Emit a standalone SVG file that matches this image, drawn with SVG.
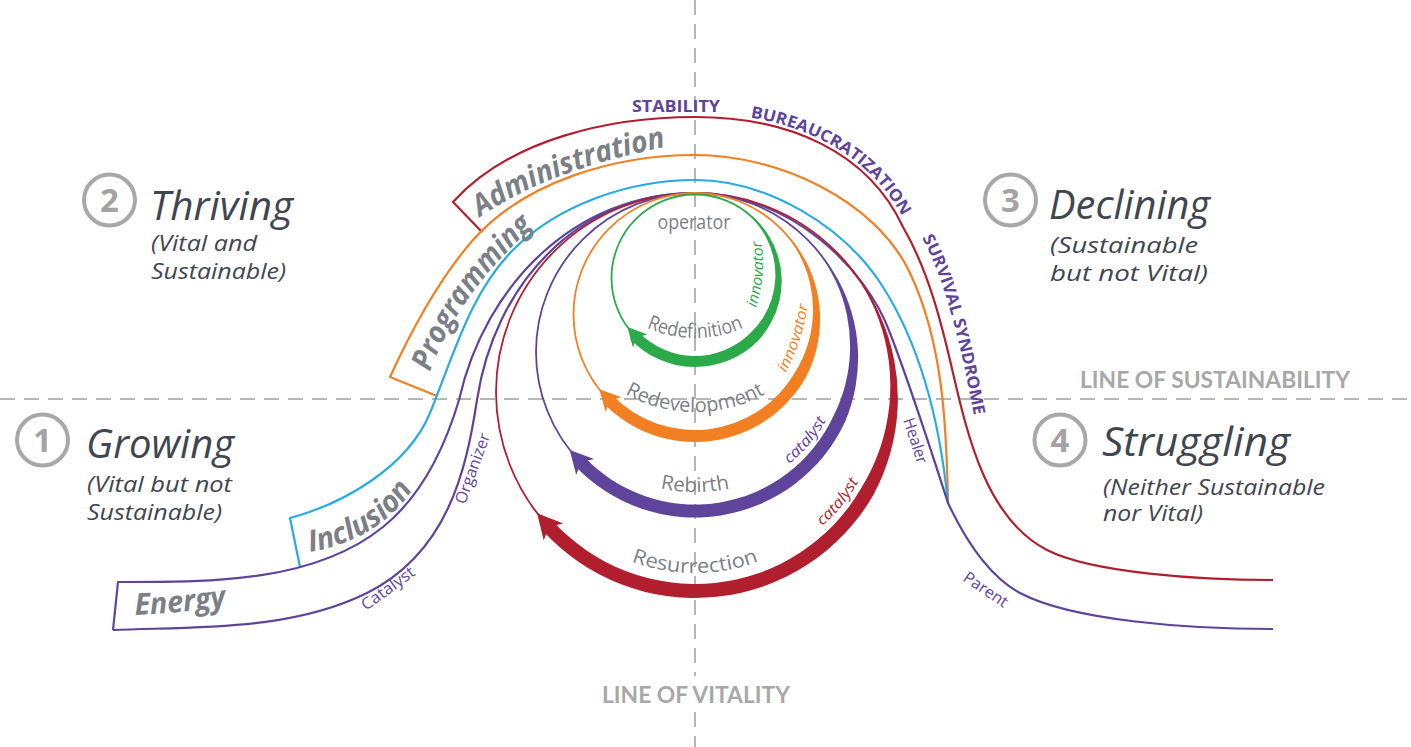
<svg xmlns="http://www.w3.org/2000/svg" width="1411" height="747" viewBox="0 0 1411 747">
<defs>
<style>
.ax{stroke:#b5b5b5;stroke-width:2;stroke-dasharray:15 9;fill:none}
.ln{fill:none;stroke-width:2.2;stroke-linejoin:round}
.thin{fill:none;stroke-width:1.8}
.p{stroke:#5e449b}.r{stroke:#b11f2e}.o{stroke:#f27f22}.b{stroke:#2aaae2}.g{stroke:#2caa4a}
.role{font-family:'Open Sans',sans-serif;font-size:16px;fill:#5e449b}
.cap{font-family:'Open Sans',sans-serif;font-weight:700;font-size:16.5px;fill:#5e449b}
.band{font-family:'Open Sans',sans-serif;font-weight:700;font-style:italic;font-size:30px;fill:#7b8086}
.cyc{font-family:'Open Sans',sans-serif;font-size:20px;fill:#7b8086}
.sm{font-family:'Open Sans',sans-serif;font-style:italic;font-size:15px}
.title{font-family:'Open Sans',sans-serif;font-style:italic;font-size:40px;fill:#3f4650}
.sub{font-family:'Open Sans',sans-serif;font-style:italic;font-size:22px;fill:#3f4650}
.num{font-family:'Open Sans',sans-serif;font-weight:700;font-size:33px;fill:#a3a3a3;text-anchor:middle}
.nc{fill:none;stroke:#a8a8a8;stroke-width:4}
.axl{font-family:Lato,'Open Sans',sans-serif;font-weight:700;font-size:22px;fill:#a8a8a8}
</style>
<path id="ah" d="M0,0 L-25,-13 L-18,0 L-25,13 Z"/>
<path id="tpAdm" d="M480,217 C536,179 603,159 670,146"/>
<path id="tpProg" d="M430,372 C450,315.5 490,265 535,225"/>
<path id="tpInc" d="M310,552 C352,545 393,523 415,485"/>
<path id="tpEn" d="M135,615 Q182,613 229,606"/>
<path id="tpBur" d="M750.1,117.45 C820.7,129.3 878.5,165 906.5,225"/>
<path id="tpSurv" d="M922,238 C945,280 960,340 976,426"/>
<path id="tpRdf" d="M582.24,259.04 A120,120 0 0 0 807.76,259.04"/>
<path id="tpRdv" d="M558.74,316.59 A145,145 0 0 0 831.26,316.59"/>
<path id="tpRbt" d="M535.25,380.14 A170,170 0 0 0 854.75,380.14"/>
<path id="tpRes" d="M525.85,454.56 A180,180 0 0 0 864.15,454.56"/>
<path id="tpInG" d="M756,308 Q767,274 761,238"/>
<path id="tpInO" d="M786,373 Q803,340 809,300"/>
<path id="tpCaP" d="M789,464 Q812,446 828,417"/>
<path id="tpCaR" d="M822,526 Q845,507 861,477"/>
</defs>

<g id="axes">
<line class="ax" x1="0" y1="399" x2="1411" y2="399"/>
<line class="ax" x1="695" y1="0" x2="695" y2="676"/>
<line class="ax" x1="695" y1="712" x2="695" y2="747"/>
<text class="axl" x="1080" y="388" textLength="270" lengthAdjust="spacingAndGlyphs">LINE OF SUSTAINABILITY</text>
<text class="axl" x="602" y="703" textLength="188" lengthAdjust="spacingAndGlyphs">LINE OF VITALITY</text>
</g>

<g id="connectors">
<path class="ln r" d="M482,232 L453,202 C510,139 610,117 695,117 C790,117 868,152 903,227 C928.5,271 941.6,323.3 953,373 C968,438 987.4,519.5 1047,550 C1092,573 1200,580 1273,580"/>
<path class="ln o" d="M437,396 L390,377 C412,329 438,280 473,240 C525,181 616,155 695,155 C777,155 875,199 910,273 C943,343 946.5,425 948,503"/>
<path class="ln b" d="M300,567 L290,518 C346,503 408,466 430,413 C453,357 470,293 513,250 C559,204 630,180 695,180 C767,180 844.5,226 883,287 C923,350 940.5,428 948,503"/>
<path class="ln p" d="M113,630 L118,582 C208,582 313,583.5 383,527 C422,495.5 444.7,448 459,400 C485,284 576,193 695,193"/>
<path class="ln p" d="M113,630 C199,626.5 290,631 367,593 C447,553 466,472 477,400 C494.5,284 578,193 695,193 C790,193 866,268 890,333 C910,385 931,450 948,503 C964,537 986.4,575 1020,593 C1073,621 1190,629 1273,629"/>
</g>

<g id="stage-labels">
<text class="band"><textPath href="#tpAdm" textLength="200" lengthAdjust="spacingAndGlyphs">Administration</textPath></text>
<text class="band"><textPath href="#tpProg" textLength="180" lengthAdjust="spacingAndGlyphs">Programming</textPath></text>
<text class="band"><textPath href="#tpInc" textLength="124" lengthAdjust="spacingAndGlyphs">Inclusion</textPath></text>
<text class="band"><textPath href="#tpEn" textLength="92" lengthAdjust="spacingAndGlyphs">Energy</textPath></text>
<text class="cap" x="632" y="112" textLength="88" lengthAdjust="spacingAndGlyphs">STABILITY</text>
<text class="cap"><textPath href="#tpBur" textLength="188" lengthAdjust="spacingAndGlyphs">BUREAUCRATIZATION</textPath></text>
<text class="cap"><textPath href="#tpSurv" textLength="186" lengthAdjust="spacingAndGlyphs">SURVIVAL SYNDROME</textPath></text>
<text class="role" transform="translate(366,611) rotate(-36)" textLength="62" lengthAdjust="spacingAndGlyphs">Catalyst</text>
<text class="role" transform="translate(465,505) rotate(-70)" textLength="74" lengthAdjust="spacingAndGlyphs">Organizer</text>
<text class="role" transform="translate(903,420) rotate(72)" textLength="47" lengthAdjust="spacingAndGlyphs">Healer</text>
<text class="role" transform="translate(962,580) rotate(34)" textLength="50" lengthAdjust="spacingAndGlyphs">Parent</text>
</g>

<g id="cycle-resurrection">
<circle class="thin r" cx="695" cy="392" r="199"/>
<path fill="#b11f2e" d="M858.02,277.85 A200,200 0 0 1 880.81,316.93 A201,201 0 0 1 894.32,360.44 A202,202 0 0 1 897.71,406.18 A204,204 0 0 1 890.66,451.83 A205,205 0 0 1 873.4,495 A206,206 0 0 1 541.92,529.83 L552.32,520.47 A192,192 0 0 0 861.27,488 A193,193 0 0 0 879.95,448.55 A194,194 0 0 0 889.33,405.6 A196,196 0 0 0 888.79,361.31 A197,197 0 0 0 878.21,317.98 A198,198 0 0 0 858.02,277.85 Z"/>
<use href="#ah" fill="#b11f2e" transform="translate(537.1,513.2) rotate(228.9)"/>
<text class="cyc" font-size="21"><textPath href="#tpRes" startOffset="50%" text-anchor="middle" textLength="130" lengthAdjust="spacingAndGlyphs">Resurrection</textPath></text>
<text class="sm" fill="#b11f2e"><textPath href="#tpCaR" textLength="58" lengthAdjust="spacingAndGlyphs">catalyst</textPath></text>
</g>

<g id="cycle-rebirth">
<circle class="thin p" cx="695" cy="352" r="159"/>
<path fill="#5e449b" d="M816.8,249.8 A160,160 0 0 1 837.83,279.22 A161,161 0 0 1 851.8,312.91 A162,162 0 0 1 857.88,349.16 A163,163 0 0 1 855.6,386.14 A165,165 0 0 1 845,421.94 A165.5,165.5 0 0 1 573.95,464.87 L583.46,456.01 A152.5,152.5 0 0 0 833.21,416.45 A153,153 0 0 0 845.43,383.98 A154,154 0 0 0 850.08,349.29 A156,156 0 0 0 846.75,314.17 A157,157 0 0 0 835.51,280.4 A158,158 0 0 0 816.8,249.8 Z"/>
<use href="#ah" fill="#5e449b" transform="translate(569.7,449.9) rotate(227.9) scale(0.92)"/>
<text class="cyc"><textPath href="#tpRbt" startOffset="50%" text-anchor="middle" textLength="70" lengthAdjust="spacingAndGlyphs">Rebirth</textPath></text>
<text class="sm" fill="#5e449b"><textPath href="#tpCaP" textLength="58" lengthAdjust="spacingAndGlyphs">catalyst</textPath></text>
</g>

<g id="cycle-redevelopment">
<circle class="thin o" cx="695" cy="314.5" r="121.5"/>
<path fill="#f27f22" d="M780.91,228.59 A122,122 0 0 1 801.26,253.15 A123,123 0 0 1 814.68,282.43 A124,124 0 0 1 820.1,314.5 A125,125 0 0 1 817,347.19 A127,127 0 0 1 805.42,378.25 A127.5,127.5 0 0 1 603.29,403.07 L611.92,394.74 A115.5,115.5 0 0 0 795.02,372.25 A116,116 0 0 0 807.72,344.7 A117,117 0 0 0 812.9,314.5 A118,118 0 0 0 810.04,283.68 A120,120 0 0 0 799.18,254.35 A121,121 0 0 0 780.91,228.59 Z"/>
<use href="#ah" fill="#f27f22" transform="translate(599.3,389.3) rotate(227) scale(0.84)"/>
<text class="cyc"><textPath href="#tpRdv" startOffset="50%" text-anchor="middle" textLength="146" lengthAdjust="spacingAndGlyphs">Redevelopment</textPath></text>
<text class="sm" fill="#f27f22"><textPath href="#tpInO" textLength="72" lengthAdjust="spacingAndGlyphs">innovator</textPath></text>
</g>

<g id="cycle-redefinition">
<circle class="thin g" cx="695" cy="278" r="83.5"/>
<path fill="#2caa4a" d="M736.75,205.69 A85,85 0 0 1 754.6,218.4 A85,85 0 0 1 768.67,235.46 A85,85 0 0 1 777.93,255.78 A85,85 0 0 1 781.64,278 A86,86 0 0 1 779.45,300.63 A87,87 0 0 1 771.39,322.1 A88,88 0 0 1 757.93,340.93 A89,89 0 0 1 629.91,338.7 L637.95,331.2 A78,78 0 0 0 750.15,333.15 A79,79 0 0 0 763.23,317.4 A80,80 0 0 0 771.86,298.59 A80,80 0 0 0 775.36,278 A81,81 0 0 0 773.37,257 A82,82 0 0 0 765.95,237.03 A83,83 0 0 0 753.49,219.51 A83,83 0 0 0 736.75,205.69 Z"/>
<use href="#ah" fill="#2caa4a" transform="translate(627.45,327.08) rotate(227.5) scale(0.76)"/>
<text class="cyc" font-size="19"><textPath href="#tpRdf" startOffset="50%" text-anchor="middle" textLength="100" lengthAdjust="spacingAndGlyphs">Redefinition</textPath></text>
<text class="sm" fill="#2caa4a" font-size="14"><textPath href="#tpInG" textLength="68" lengthAdjust="spacingAndGlyphs">innovator</textPath></text>
<text class="cyc" font-size="17" x="694" y="229" text-anchor="middle" textLength="73" lengthAdjust="spacingAndGlyphs">operator</text>
</g>

<g id="quadrant-2">
<circle class="nc" cx="109.5" cy="200" r="25.5"/>
<text class="num" x="109.5" y="212">2</text>
<text class="title" x="150" y="220" textLength="143" lengthAdjust="spacingAndGlyphs">Thriving</text>
<text class="sub" x="151" y="251" textLength="106" lengthAdjust="spacingAndGlyphs">(Vital and</text>
<text class="sub" x="151" y="279" textLength="135" lengthAdjust="spacingAndGlyphs">Sustainable)</text>
</g>
<g id="quadrant-1">
<circle class="nc" cx="42.5" cy="440" r="25.5"/>
<text class="num" x="42.5" y="452">1</text>
<text class="title" x="86" y="458" textLength="148" lengthAdjust="spacingAndGlyphs">Growing</text>
<text class="sub" x="87" y="492" textLength="145" lengthAdjust="spacingAndGlyphs">(Vital but not</text>
<text class="sub" x="87" y="520" textLength="135" lengthAdjust="spacingAndGlyphs">Sustainable)</text>
</g>
<g id="quadrant-3">
<circle class="nc" cx="1010.5" cy="200" r="25.5"/>
<text class="num" x="1010.5" y="212">3</text>
<text class="title" x="1049" y="219" textLength="161" lengthAdjust="spacingAndGlyphs">Declining</text>
<text class="sub" x="1050" y="253" textLength="148" lengthAdjust="spacingAndGlyphs">(Sustainable</text>
<text class="sub" x="1050" y="281" textLength="158" lengthAdjust="spacingAndGlyphs">but not Vital)</text>
</g>
<g id="quadrant-4">
<circle class="nc" cx="1060" cy="440" r="25.5"/>
<text class="num" x="1060" y="452">4</text>
<text class="title" x="1102" y="456" textLength="188" lengthAdjust="spacingAndGlyphs">Struggling</text>
<text class="sub" x="1103" y="495" textLength="222" lengthAdjust="spacingAndGlyphs">(Neither Sustainable</text>
<text class="sub" x="1103" y="521" textLength="100" lengthAdjust="spacingAndGlyphs">nor Vital)</text>
</g>
</svg>
